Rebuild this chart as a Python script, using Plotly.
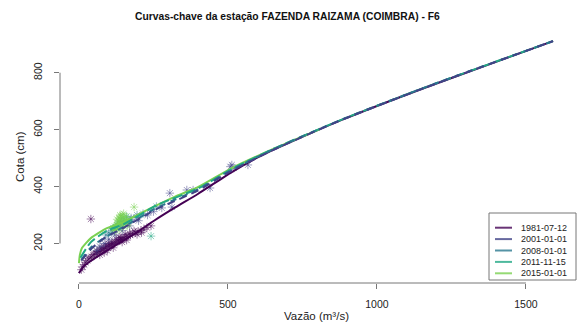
import plotly.graph_objects as go

# ---------------- data ----------------
periods = ["1981-07-12", "2001-01-01", "2008-01-01", "2011-11-15", "2015-01-01"]
colors = ["#440154", "#414487", "#2A788E", "#22A884", "#7AD151"]

# rating curves
cQ_1981 = [0, 17, 50, 117, 185, 252, 319, 399, 513, 607, 708, 886, 1168, 1591]
cH_1981 = [96, 121, 146, 190, 233, 280, 324, 374, 451, 506, 555, 636, 750, 911]

cQ_2001 = [8, 44, 84, 151, 262, 319, 399, 513, 658, 886, 1168, 1591]
cH_2001 = [140, 184, 218, 256, 322, 348, 386, 456, 532, 636, 750, 911]

cQ_2008 = [8, 40, 84, 151, 262, 399, 513, 658, 886, 1168, 1591]
cH_2008 = [143, 186, 220, 259, 326, 390, 459, 534, 637, 751, 911]

cQ_2011 = [5, 40, 94, 151, 262, 399, 513, 658, 886, 1168, 1591]
cH_2011 = [150, 205, 245, 268, 335, 393, 462, 535, 637, 751, 911]

cQ_2015 = [0, 3, 10, 40, 94, 151, 208, 319, 399, 513, 658, 809]
cH_2015 = [131, 160, 184, 219, 254, 276, 307, 363, 398, 465, 535, 602]

pQ_1981 = [8, 12, 18, 22, 28, 33, 38, 42, 48, 52, 58, 63, 68, 72, 78, 83, 88, 92, 98, 103,
           108, 112, 118, 122, 128, 133, 138, 142, 148, 152, 158, 165, 172, 180, 190, 198,
           208, 218, 228, 242, 40, 125, 140, 155, 170, 185, 100, 110, 90, 60, 75, 135,
           70, 95, 115, 145, 160, 195, 210, 85]
pH_1981 = [108, 118, 126, 134, 140, 146, 150, 154, 160, 162, 166, 170, 172, 176, 178, 182,
           184, 188, 190, 192, 196, 198, 200, 204, 206, 210, 212, 214, 218, 220, 224, 226,
           230, 234, 238, 242, 246, 250, 256, 262, 286, 215, 220, 232, 236, 244, 200, 205,
           195, 172, 185, 222, 160, 175, 185, 205, 212, 232, 238, 168]

pQ_2001 = [278, 312, 305, 362, 383, 440, 513, 508, 567, 520, 60, 70, 85, 100, 120, 145,
           170, 200, 230, 250, 150, 175, 195]
pH_2001 = [325, 328, 377, 388, 388, 395, 476, 470, 476, 465, 175, 190, 200, 215, 230, 245,
           262, 280, 300, 312, 270, 285, 292]

pQ_2008 = [120, 130, 140, 150, 160, 175, 195, 110, 100, 90, 215, 260]
pH_2008 = [250, 262, 270, 275, 280, 290, 300, 245, 238, 230, 305, 330]

pQ_2011 = [242, 130, 140, 150, 135, 125, 145, 160, 115]
pH_2011 = [226, 265, 272, 282, 278, 258, 290, 295, 255]

pQ_2015 = [122, 125, 128, 130, 132, 135, 138, 140, 142, 145, 148, 150, 152, 155, 158, 160,
           162, 135, 128, 145, 185, 140, 150, 165, 120, 115]
pH_2015 = [245, 255, 265, 272, 280, 290, 300, 285, 275, 268, 260, 290, 280, 270, 295, 285,
           262, 250, 285, 300, 328, 295, 305, 275, 260, 250]

x_ticks = [0, 500, 1000, 1500]
y_ticks = [200, 400, 600, 800]

curves_Q = [cQ_1981, cQ_2001, cQ_2008, cQ_2011, cQ_2015]
curves_H = [cH_1981, cH_2001, cH_2008, cH_2011, cH_2015]
pts_Q = [pQ_1981, pQ_2001, pQ_2008, pQ_2011, pQ_2015]
pts_H = [pH_1981, pH_2001, pH_2008, pH_2011, pH_2015]

# ---------------- figure ----------------
W, H = 577, 332
L, R, T, B = 60, 5, 31, 49
FONT = "Liberation Sans, Arial, sans-serif"
TXT = "#222222"


def hexa(c, a):
    c = c.lstrip("#")
    return "rgba(%d,%d,%d,%.2f)" % (int(c[0:2], 16), int(c[2:4], 16), int(c[4:6], 16), a)


def px_x(px):
    return (px - L) / (W - L - R)


def px_y(py):
    return (H - B - py) / (H - T - B)


fig = go.Figure()

for i in range(5):
    fig.add_trace(go.Scatter(
        x=pts_Q[i], y=pts_H[i], mode="markers", showlegend=False, hoverinfo="skip",
        marker=dict(symbol="asterisk-open", size=7, color=hexa(colors[i], 0.5),
                    line=dict(color=hexa(colors[i], 0.5), width=1)),
    ))

dashes = ["solid", "8px,5px", "6px,6px", "10px,4px", "solid"]
order = [0, 4, 3, 2, 1]
for i in order:
    fig.add_trace(go.Scatter(
        x=curves_Q[i], y=curves_H[i], mode="lines", name=periods[i], showlegend=False,
        hoverinfo="skip",
        line=dict(color=colors[i], width=2, dash=dashes[i], shape="spline", smoothing=0.6),
    ))

axis_col = "#777777"
fig.update_xaxes(range=[-63.6, 1654.6], tickvals=x_ticks, ticks="outside", ticklen=5,
                 tickcolor=axis_col, showgrid=False, zeroline=False, showline=False,
                 automargin=False, ticklabelstandoff=6,
                 tickfont=dict(family=FONT, size=10.5, color=TXT))
fig.update_yaxes(range=[61.3, 946.5], tickvals=y_ticks, ticks="outside", ticklen=5,
                 tickcolor=axis_col, showgrid=False, zeroline=False, showline=False,
                 automargin=False, ticklabelstandoff=8,
                 tickangle=-90, tickfont=dict(family=FONT, size=10.5, color=TXT))

shapes = [
    dict(type="line", xref="x", yref="paper", x0=x_ticks[0], x1=x_ticks[-1], y0=0, y1=0,
         line=dict(color=axis_col, width=1)),
    dict(type="line", xref="paper", yref="y", x0=0, x1=0, y0=y_ticks[0], y1=y_ticks[-1],
         line=dict(color=axis_col, width=1)),
    dict(type="rect", xref="paper", yref="paper", x0=px_x(489), x1=px_x(576),
         y0=px_y(280), y1=px_y(213), line=dict(color=axis_col, width=1),
         fillcolor="white", layer="above"),
]
annotations = [
    dict(text="<b>Curvas-chave da estação FAZENDA RAIZAMA (COIMBRA) - F6</b>",
         xref="paper", yref="paper", x=px_x(287), y=px_y(17), showarrow=False,
         xanchor="center", yanchor="middle", font=dict(family=FONT, size=10.3, color="#111")),
    dict(text="Vazão (m³/s)", xref="paper", yref="paper", x=px_x(316), y=px_y(316),
         showarrow=False, xanchor="center", yanchor="middle",
         font=dict(family=FONT, size=11.5, color=TXT)),
    dict(text="Cota (cm)", xref="paper", yref="paper", x=px_x(20), y=px_y(157),
         showarrow=False, xanchor="center", yanchor="middle", textangle=-90,
         font=dict(family=FONT, size=11.5, color=TXT)),
]
for k in range(5):
    yy = 227.7 + k * 11.4
    shapes.append(dict(type="line", xref="paper", yref="paper", x0=px_x(495), x1=px_x(512),
                       y0=px_y(yy), y1=px_y(yy), line=dict(color=hexa(colors[k], 0.8), width=2),
                       layer="above"))
    annotations.append(dict(text=periods[k], xref="paper", yref="paper", x=px_x(519),
                            y=px_y(yy), showarrow=False, xanchor="left", yanchor="middle",
                            font=dict(family=FONT, size=9, color=TXT)))

fig.update_layout(
    width=W, height=H, margin=dict(l=L, r=R, t=T, b=B, pad=0, autoexpand=False),
    paper_bgcolor="white", plot_bgcolor="white", font=dict(family=FONT, color=TXT),
    shapes=shapes, annotations=annotations, showlegend=False,
)

fig.write_html("out.html", config={"displayModeBar": False, "staticPlot": True},
               post_script="document.body.style.margin='0';document.body.style.overflow='hidden';")
